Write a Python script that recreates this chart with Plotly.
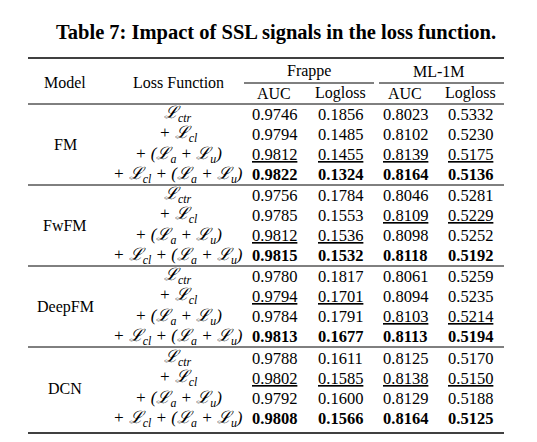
import plotly.graph_objects as go

title = "Table 7: Impact of SSL signals in the loss function."
models = ["FM", "FwFM", "DeepFM", "DCN"]
loss_labels = ["ℒ<sub>ctr</sub>", "+ ℒ<sub>cl</sub>", "+ (ℒ<sub>a</sub> + ℒ<sub>u</sub>)",
               "+ ℒ<sub>cl</sub> + (ℒ<sub>a</sub> + ℒ<sub>u</sub>)"]
datasets = ["Frappe", "ML-1M"]
metrics = ["AUC", "Logloss", "AUC", "Logloss"]
values = {
    "FM":     [["0.9746", "0.1856", "0.8023", "0.5332"], ["0.9794", "0.1485", "0.8102", "0.5230"],
               ["0.9812", "0.1455", "0.8139", "0.5175"], ["0.9822", "0.1324", "0.8164", "0.5136"]],
    "FwFM":   [["0.9756", "0.1784", "0.8046", "0.5281"], ["0.9785", "0.1553", "0.8109", "0.5229"],
               ["0.9812", "0.1536", "0.8098", "0.5252"], ["0.9815", "0.1532", "0.8118", "0.5192"]],
    "DeepFM": [["0.9780", "0.1817", "0.8061", "0.5259"], ["0.9794", "0.1701", "0.8094", "0.5235"],
               ["0.9784", "0.1791", "0.8103", "0.5214"], ["0.9813", "0.1677", "0.8113", "0.5194"]],
    "DCN":    [["0.9788", "0.1611", "0.8125", "0.5170"], ["0.9802", "0.1585", "0.8138", "0.5150"],
               ["0.9792", "0.1600", "0.8129", "0.5188"], ["0.9808", "0.1566", "0.8164", "0.5125"]],
}
# index of underlined (second best) row per model and column
underline_rows = {
    "FM": [2, 2, 2, 2], "FwFM": [2, 2, 1, 1], "DeepFM": [1, 1, 2, 2], "DCN": [1, 1, 1, 1],
}
bold_row = 3

W, H = 537, 442
FONT = "Liberation Serif, DejaVu Serif, serif"
fig = go.Figure()
fig.update_layout(width=W, height=H, margin=dict(l=0, r=0, t=0, b=0),
                  paper_bgcolor="white", plot_bgcolor="white", showlegend=False,
                  xaxis=dict(range=[0, W], visible=False, fixedrange=True),
                  yaxis=dict(range=[H, 0], visible=False, fixedrange=True))

ann = []
def txt(x, y, s, size=16, **kw):
    ann.append(dict(x=x, y=y, xref="x", yref="y", text=s, showarrow=False,
                    font=dict(family=FONT, size=size, color="black"), **kw))

shapes = []
def hline(x0, x1, y, w=1.3):
    shapes.append(dict(type="line", xref="x", yref="y", x0=x0, x1=x1, y0=y, y1=y,
                       line=dict(color="black", width=w)))

txt(268, 24, "<b>" + title + "</b>", size=20.5)
hline(20, 496, 50, 1.6)
txt(57, 74, "Model", 16)
txt(170, 74, "Loss Function", 16)
txt(301, 63, datasets[0], 16)
txt(431, 63, datasets[1], 16)
hline(236, 366, 75, 1)
hline(371, 496, 75, 1)
col_x = [266, 332, 397, 462]
for x, m in zip(col_x, metrics):
    txt(x, 85, m, 16)
hline(20, 496, 96, 1)

starts = [106, 187, 268, 350]
rules = [177, 258, 339]
for gi, model in enumerate(models):
    y0 = starts[gi]
    txt(57, y0 + 30.5, model, 16)
    for ri in range(4):
        y = y0 + ri * 20.3
        lab = "<i>" + loss_labels[ri] + "</i>"
        txt(170, y, lab, 17)
        for ci in range(4):
            s = values[model][ri][ci]
            if ri == bold_row:
                s = "<b>" + s + "</b>"
            elif underline_rows[model][ci] == ri:
                s = "<u>" + s + "</u>"
            txt(col_x[ci], y, s, 16.5)
for r in rules:
    hline(20, 496, r, 1)
hline(20, 496, 425, 1.6)

fig.update_layout(annotations=ann, shapes=shapes)
fig.write_html("out.html")
